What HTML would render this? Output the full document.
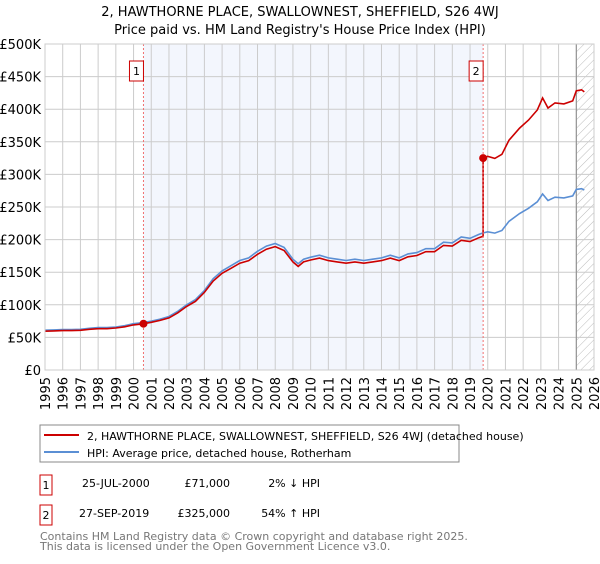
<!DOCTYPE html>
<html><head><meta charset="utf-8"><style>
body{margin:0;background:#fff;width:600px;height:560px;overflow:hidden;font-family:"DejaVu Sans","Liberation Sans",sans-serif}
svg text{font-family:"DejaVu Sans","Liberation Sans",sans-serif}
</style></head><body>
<svg id="chart" width="600" height="560" xmlns="http://www.w3.org/2000/svg">
<text x="300" y="16" text-anchor="middle" font-size="13">2, HAWTHORNE PLACE, SWALLOWNEST, SHEFFIELD, S26 4WJ</text>
<text x="300" y="34" text-anchor="middle" font-size="13">Price paid vs. HM Land Registry's House Price Index (HPI)</text>
<g id="plot"></g>
<g>
<rect x="40" y="425" width="419" height="37" fill="#fff" stroke="#888"/>
<line x1="44" y1="435" x2="79" y2="435" stroke="#cc0000" stroke-width="2"/>
<text x="87" y="440" font-size="11">2, HAWTHORNE PLACE, SWALLOWNEST, SHEFFIELD, S26 4WJ (detached house)</text>
<line x1="44" y1="452" x2="79" y2="452" stroke="#5b8fd4" stroke-width="2"/>
<text x="87" y="457" font-size="11">HPI: Average price, detached house, Rotherham</text>
</g>
<g font-size="11">
<rect x="40" y="475" width="12" height="20" fill="none" stroke="#cc0000"/>
<text x="46" y="489" text-anchor="middle">1</text>
<text x="82" y="487">25-JUL-2000</text>
<text x="230" y="487" text-anchor="end">£71,000</text>
<text x="320" y="487" text-anchor="end">2% ↓ HPI</text>
<rect x="40" y="505" width="12" height="20" fill="none" stroke="#cc0000"/>
<text x="46" y="519" text-anchor="middle">2</text>
<text x="79" y="517">27-SEP-2019</text>
<text x="230" y="517" text-anchor="end">£325,000</text>
<text x="320" y="517" text-anchor="end">54% ↑ HPI</text>
</g>
<text x="40" y="540" font-size="11" fill="#777">Contains HM Land Registry data © Crown copyright and database right 2025.</text>
<text x="40" y="550" font-size="11" fill="#777">This data is licensed under the Open Government Licence v3.0.</text>
</svg>
<script>
const hpiYears=[1995,1995.5,1996,1996.5,1997,1997.5,1998,1998.5,1999,1999.5,2000,2000.5,2001,2001.5,2002,2002.5,2003,2003.5,2004,2004.5,2005,2005.5,2006,2006.5,2007,2007.5,2008,2008.5,2009,2009.3,2009.6,2010,2010.5,2011,2011.5,2012,2012.5,2013,2013.5,2014,2014.5,2015,2015.5,2016,2016.5,2017,2017.5,2018,2018.5,2019,2019.5,2019.7,2020,2020.4,2020.8,2021.2,2021.8,2022.3,2022.8,2023.1,2023.4,2023.8,2024.3,2024.8,2025,2025.3,2025.45];
const hpiValues=[61000,61500,62000,62000,62500,64000,65000,65000,66000,68000,71000,72500,75000,78000,82000,90000,100000,108000,122000,140000,152000,160000,168000,172000,182000,190000,194000,188000,170000,163000,170000,173000,176000,172000,170000,168000,170000,168000,170000,172000,176000,172000,178000,180000,186000,186000,196000,195000,204000,202000,208000,210000,212000,210000,214000,228000,240000,248000,258000,270000,260000,265000,264000,267000,277000,278000,276000];
const saleDates=[2000.56,2019.74];
const salePrices=[71000,325000];
const saleLabels=["1","2"];
const yTicks=[0,50000,100000,150000,200000,250000,300000,350000,400000,450000,500000];
const yTickLabels=["£0","£50K","£100K","£150K","£200K","£250K","£300K","£350K","£400K","£450K","£500K"];
const xTicks=[1995,1996,1997,1998,1999,2000,2001,2002,2003,2004,2005,2006,2007,2008,2009,2010,2011,2012,2013,2014,2015,2016,2017,2018,2019,2020,2021,2022,2023,2024,2025,2026];

const NS="http://www.w3.org/2000/svg";
const X0=45,X1=594,Y0=370,Y1=44;
const xs=t=>X0+(t-1995)/(2026-1995)*(X1-X0);
const ys=v=>Y0-v/500000*(Y0-Y1);
const plot=document.getElementById('plot');
function mk(tag,attrs,parent){const e=document.createElementNS(NS,tag);for(const k in attrs)e.setAttribute(k,attrs[k]);(parent||plot).appendChild(e);return e;}
function interp(t){for(let i=0;i<hpiYears.length-1;i++){if(t>=hpiYears[i]&&t<=hpiYears[i+1]){const f=(t-hpiYears[i])/(hpiYears[i+1]-hpiYears[i]);return hpiValues[i]+f*(hpiValues[i+1]-hpiValues[i]);}}return hpiValues[hpiValues.length-1];}

const shade=mk('rect',{x:xs(saleDates[0]),y:Y1,width:xs(saleDates[1])-xs(saleDates[0]),height:Y0-Y1,fill:'#f3f6fd'});


const defs=mk('defs',{});
const pat=mk('pattern',{id:'hatch',width:6,height:6,patternUnits:'userSpaceOnUse',patternTransform:'rotate(45)'},defs);
mk('line',{x1:0,y1:0,x2:0,y2:6,stroke:'#bbb','stroke-width':1},pat);
const hatch=mk('rect',{x:xs(2025.0),y:Y1,width:X1-xs(2025.0),height:Y0-Y1,fill:'url(#hatch)'});



yTicks.forEach((v,i)=>{
 const g=mk('line',{x1:X0,x2:X1,y1:ys(v),y2:ys(v),stroke:'#ccc'});
 
 
 const t=mk('text',{x:X0-4,y:ys(v)+5,'text-anchor':'end','font-size':13});
 t.textContent=yTickLabels[i];
 
 
});
xTicks.forEach(yr=>{
 const g=mk('line',{x1:xs(yr),x2:xs(yr),y1:Y1,y2:Y0,stroke:'#ccc'});
 
 
 const t=mk('text',{x:0,y:0,'text-anchor':'end','font-size':13,transform:`translate(${xs(yr)+5},${Y0+7}) rotate(-90)`});
 t.textContent=yr;
 
 
});
mk('line',{x1:xs(2025.0),x2:xs(2025.0),y1:Y1,y2:Y0,stroke:'#888'});

let d=hpiYears.map((t,i)=>(i?'L':'M')+xs(t).toFixed(1)+','+ys(hpiValues[i]).toFixed(1)).join('');
const hpiLine=mk('path',{d:d,fill:'none',stroke:'#5b8fd4','stroke-width':1.6});



const r1=salePrices[0]/interp(saleDates[0]),r2=salePrices[1]/interp(saleDates[1]);
let pts=[];
hpiYears.forEach((t,i)=>{ if(t<saleDates[1]) pts.push([t,hpiValues[i]*r1]); });
pts.push([saleDates[1],interp(saleDates[1])*r1]);
pts.push([saleDates[1],salePrices[1]]);
hpiYears.forEach((t,i)=>{ if(t>saleDates[1]) pts.push([t,hpiValues[i]*r2]); });
d=pts.map((p,i)=>(i?'L':'M')+xs(p[0]).toFixed(1)+','+ys(p[1]).toFixed(1)).join('');
const redLine=mk('path',{d:d,fill:'none',stroke:'#cc0000','stroke-width':1.6});



saleDates.forEach((t,i)=>{
 const v=mk('line',{x1:xs(t),x2:xs(t),y1:Y1,y2:Y0,stroke:'#f07070','stroke-dasharray':'2,2'});
 
 
 const c=mk('circle',{cx:xs(t),cy:ys(salePrices[i]),r:4,fill:'#cc0000'});
 
 
 const b=mk('rect',{x:xs(t)-14,y:61,width:14,height:20,fill:'#fff',stroke:'#cc0000'});
 
 
 const tx=mk('text',{x:xs(t)-7,y:75,'text-anchor':'middle','font-size':11});
 tx.textContent=saleLabels[i];
 
 
});
const border=mk('rect',{x:X0,y:Y1,width:X1-X0,height:Y0-Y1,fill:'none',stroke:'#ccc'});


</script>
</body></html>
